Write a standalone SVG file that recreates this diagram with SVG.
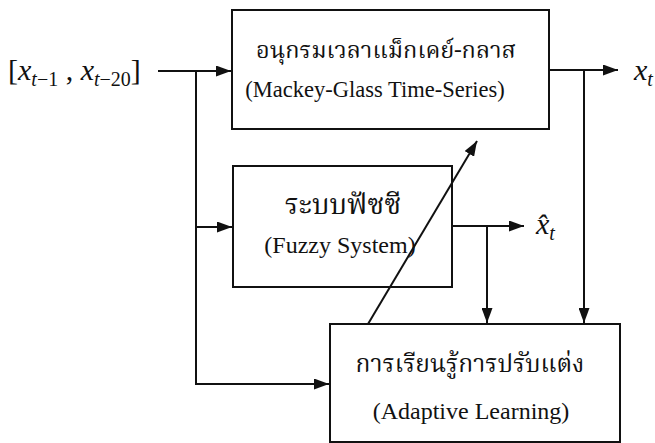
<svg xmlns="http://www.w3.org/2000/svg" width="655" height="443" viewBox="0 0 655 443">
<defs>
<marker id="arr" viewBox="0 0 15 11" refX="15" refY="5.5" markerWidth="15" markerHeight="11" markerUnits="userSpaceOnUse" orient="auto">
<path d="M0,0 L15,5.5 L0,11 Z" fill="#111"/>
</marker>
<style>
.box{fill:#fff;stroke:#111;stroke-width:2}
.ln{fill:none;stroke:#111;stroke-width:2}
.th{font-family:"Noto Serif Thai","Noto Sans Thai","Loma","Garuda","Liberation Serif",serif;font-size:23px;fill:#111;text-anchor:middle}
.en{font-family:"Liberation Serif",serif;font-size:24px;fill:#111;text-anchor:middle}
.m{font-family:"Liberation Serif",serif;font-size:30px;fill:#111}
.s{font-size:20px;font-style:italic}
</style>
</defs>
<rect width="655" height="443" fill="#fff"/>
<g id="input">
<text class="m" x="8" y="80">[<tspan font-style="italic">x</tspan><tspan class="s" dy="6">t</tspan><tspan font-size="20">−1</tspan><tspan dy="-6"> , </tspan><tspan font-style="italic">x</tspan><tspan class="s" dy="6">t</tspan><tspan font-size="20">−20</tspan><tspan dy="-6">]</tspan></text>
</g>
<g id="mackey-glass">
<rect class="box" x="232" y="10" width="317" height="119"/>
<text class="th" x="386" y="58" style="font-size:23.5px">อนุกรมเวลาแม็กเคย์-กลาส</text>
<text class="en" x="375" y="97" style="font-size:22.5px">(Mackey-Glass Time-Series)</text>
</g>
<g id="fuzzy">
<rect class="box" x="233" y="166" width="219" height="121"/>
<text class="th" x="343" y="214" style="font-size:28px">ระบบฟัซซี</text>
<text class="en" x="340" y="253">(Fuzzy System)</text>
</g>
<g id="adaptive">
<rect class="box" x="330" y="324" width="290" height="118"/>
<text class="th" x="470" y="372" style="font-size:24.5px">การเรียนรู้การปรับแต่ง</text>
<text class="en" x="471" y="419">(Adaptive Learning)</text>
</g>
<g id="out-x">
<text class="m" x="634" y="80"><tspan font-style="italic">x</tspan><tspan class="s" dy="6">t</tspan></text>
</g>
<g id="out-xhat">
<text class="m" x="536" y="234"><tspan font-style="italic">x̂</tspan><tspan class="s" dy="6">t</tspan></text>
</g>
<g id="connectors">
<path class="ln" d="M158,71 L231,71" marker-end="url(#arr)"/>
<path class="ln" d="M196,71 L196,384 L329,384" marker-end="url(#arr)"/>
<path class="ln" d="M196,227 L232,227" marker-end="url(#arr)"/>
<path class="ln" d="M549,70 L618,70" marker-end="url(#arr)"/>
<path class="ln" d="M584,70 L584,323" marker-end="url(#arr)"/>
<path class="ln" d="M452,226 L524,226" marker-end="url(#arr)"/>
<path class="ln" d="M487,226 L487,323" marker-end="url(#arr)"/>
<path class="ln" d="M368,324 L477,141" marker-end="url(#arr)"/>
</g>
</svg>
